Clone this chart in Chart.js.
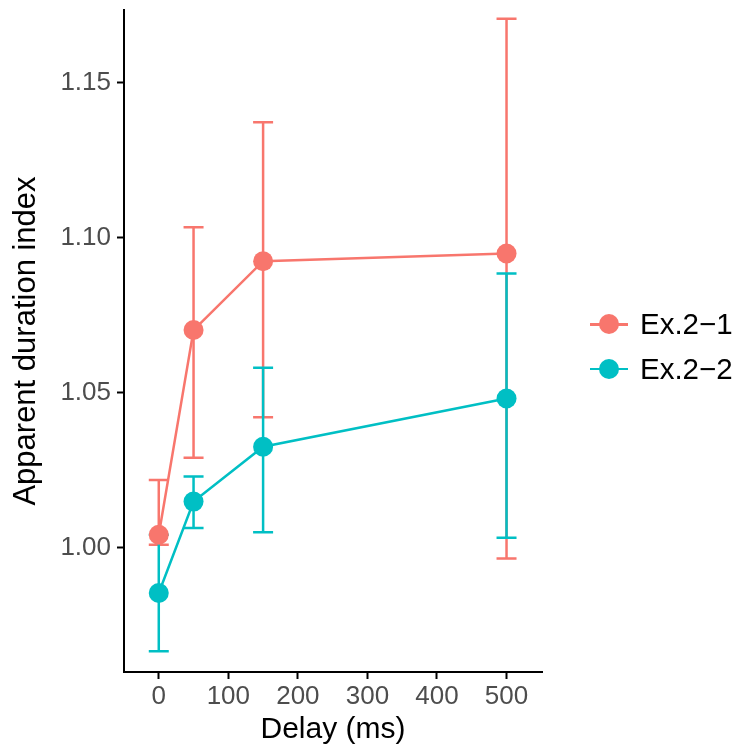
<!DOCTYPE html>
<html>
<head>
<meta charset="utf-8">
<script src="https://cdn.jsdelivr.net/npm/chart.js@4.4.1/dist/chart.umd.min.js"></script>
<style>
  body { margin: 0; background: #fff; }
  #wrap { position: relative; width: 741px; height: 748px; }
  .leg { position: absolute; left: 588px; height: 40px; display: flex; align-items: center;
         font-family: "Liberation Sans", Arial, sans-serif; font-size: 29.5px; color: #000; }
  .sym { position: relative; width: 42px; height: 40px; margin-right: 10px; }
  .sym .ln { position: absolute; left: 2px; right: 2px; top: 18.75px; height: 2.5px; }
  .sym .dot { position: absolute; left: 11px; top: 10px; width: 20px; height: 20px; border-radius: 50%; }
</style>
</head>
<body>
<div id="wrap">
  <canvas id="chart" width="741" height="748"></canvas>
  <div id="legend"></div>
</div>
<script>
/* data */
const delays = [0, 50, 150, 500];

const ex21Mean  = [1.0041, 1.0702, 1.0924, 1.0949];
const ex21Upper = [1.0218, 1.1034, 1.1373, 1.1707];
const ex21Lower = [1.0009, 1.0290, 1.0420, 0.9964];

const ex22Mean  = [0.9853, 1.0148, 1.0325, 1.0481];
const ex22Upper = [1.0041, 1.0229, 1.0580, 1.0884];
const ex22Lower = [0.9665, 1.0063, 1.0049, 1.0031];

const xTicks = [0, 100, 200, 300, 400, 500];
const yTicks = [1.00, 1.05, 1.10, 1.15];

const series = [
  { label: 'Ex.2\u22121', color: '#F8766D', mean: ex21Mean, upper: ex21Upper, lower: ex21Lower },
  { label: 'Ex.2\u22122', color: '#00BFC4', mean: ex22Mean, upper: ex22Upper, lower: ex22Lower }
];

const FONT = '"Liberation Sans", Arial, sans-serif';

/* error bars drawn under lines and points */
const errorBars = {
  id: 'errorBars',
  beforeDatasetsDraw(chart){
    const { ctx, scales: { x, y } } = chart;
    ctx.save();
    ctx.lineWidth = 2.5;
    series.forEach(s => {
      ctx.strokeStyle = s.color;
      delays.forEach((d, i) => {
        const px = x.getPixelForValue(d);
        const top = y.getPixelForValue(s.upper[i]);
        const bot = y.getPixelForValue(s.lower[i]);
        ctx.beginPath();
        ctx.moveTo(px, top); ctx.lineTo(px, bot);
        ctx.moveTo(px - 10, top); ctx.lineTo(px + 10, top);
        ctx.moveTo(px - 10, bot); ctx.lineTo(px + 10, bot);
        ctx.stroke();
      });
    });
    ctx.restore();
  }
};

const toXY = arr => arr.map((v, i) => ({ x: delays[i], y: v }));

// point datasets first so they sit on top of every line
const datasets = [];
series.forEach(s => datasets.push({
  label: s.label, data: toXY(s.mean), showLine: false,
  pointRadius: 10, pointHoverRadius: 10, pointBorderWidth: 0,
  pointBackgroundColor: s.color, borderColor: s.color
}));
series.forEach(s => datasets.push({
  label: s.label + ' line', data: toXY(s.mean), showLine: true,
  pointRadius: 0, borderColor: s.color, borderWidth: 2.5, tension: 0
}));

const axisCommon = {
  border: { display: true, color: '#000', width: 2 },
  grid: { drawOnChartArea: false, drawTicks: true, tickLength: 7, tickColor: '#000', tickWidth: 2 },
};

new Chart(document.getElementById('chart'), {
  type: 'scatter',
  data: { datasets },
  options: {
    responsive: false,
    animation: false,
    events: [],
    layout: { padding: { top: 8, right: 199, left: 0, bottom: 0 } },
    plugins: { legend: { display: false }, tooltip: { enabled: false } },
    scales: {
      x: {
        ...axisCommon,
        type: 'linear', min: -50, max: 551,
        afterBuildTicks: sc => { sc.ticks = xTicks.map(v => ({ value: v })); },
        afterFit: sc => { sc.height = 76; sc.paddingLeft = 0; sc.paddingRight = 0; },
        ticks: { color: '#4D4D4D', padding: 2, font: { family: FONT, size: 26 }, maxRotation: 0,
                 callback: v => String(v) },
        title: { display: true, text: 'Delay (ms)', color: '#000',
                 font: { family: FONT, size: 30 }, padding: { top: 0, bottom: 0 } }
      },
      y: {
        ...axisCommon,
        type: 'linear', min: 0.9598, max: 1.1735,
        afterBuildTicks: sc => { sc.ticks = yTicks.map(v => ({ value: v })); },
        afterFit: sc => { sc.width = 124; sc.paddingTop = 0; sc.paddingBottom = 0; },
        ticks: { color: '#4D4D4D', padding: 6, font: { family: FONT, size: 26 },
                 callback: v => Number(v).toFixed(2) },
        title: { display: true, text: 'Apparent duration index', color: '#000',
                 font: { family: FONT, size: 31 }, padding: { top: 8, bottom: 0 } }
      }
    }
  },
  plugins: [errorBars]
});

/* legend (html, real text) */
const legend = document.getElementById('legend');
const rowCenters = [324.3, 369];
series.forEach((s, i) => {
  const row = document.createElement('div');
  row.className = 'leg';
  row.style.top = (rowCenters[i] - 20) + 'px';
  row.innerHTML = `<div class="sym"><div class="ln" style="background:${s.color}"></div>` +
                  `<div class="dot" style="background:${s.color}"></div></div><span>${s.label}</span>`;
  legend.appendChild(row);
});
</script>
</body>
</html>
